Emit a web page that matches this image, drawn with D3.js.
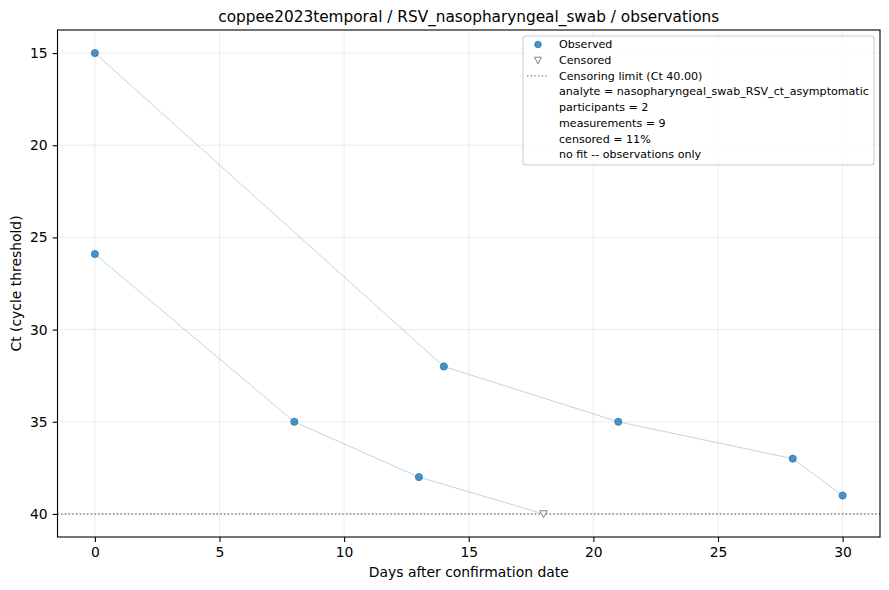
<!DOCTYPE html>
<html>
<head>
<meta charset="utf-8">
<script src="https://cdn.jsdelivr.net/npm/d3@7"></script>
<style>
  body { margin: 0; background: #fff; }
  text { font-family: "DejaVu Sans", sans-serif; }
</style>
</head>
<body>
<svg id="chart" width="889" height="590"></svg>
<script>
// participant trajectories (days, Ct)
var subjA_days = [0, 14, 21, 28, 30];
var subjA_ct = [15, 32, 35, 37, 39];
var subjB_days = [0, 8, 13, 18];
var subjB_ct = [25.9, 35, 38, 40];
var subjB_censored = [false, false, false, true];

var censorLimit = 40;
var xTicks = [0, 5, 10, 15, 20, 25, 30];
var yTicks = [15, 20, 25, 30, 35, 40];
var legendNotes = [
  "analyte = nasopharyngeal_swab_RSV_ct_asymptomatic",
  "participants = 2",
  "measurements = 9",
  "censored = 11%",
  "no fit -- observations only"
];

var svg = d3.select("#chart");
var pLeft = 57.5, pRight = 880, pTop = 30, pBottom = 537;

var x = d3.scaleLinear().domain([-1.5, 31.5]).range([pLeft, pRight]);
var y = d3.scaleLinear().domain([13.75, 41.25]).range([pTop, pBottom]);

// grid
svg.append("g").selectAll("line").data(xTicks).enter().append("line")
  .attr("x1", d => x(d)).attr("x2", d => x(d))
  .attr("y1", pTop).attr("y2", pBottom)
  .attr("stroke", "#b0b0b0").attr("stroke-opacity", 0.3).attr("stroke-width", 0.8);
svg.append("g").selectAll("line").data(yTicks).enter().append("line")
  .attr("x1", pLeft).attr("x2", pRight)
  .attr("y1", d => y(d)).attr("y2", d => y(d))
  .attr("stroke", "#b0b0b0").attr("stroke-opacity", 0.3).attr("stroke-width", 0.8);

// censoring limit
svg.append("line")
  .attr("x1", pLeft).attr("x2", pRight)
  .attr("y1", y(censorLimit)).attr("y2", y(censorLimit))
  .attr("stroke", "#808080").attr("stroke-width", 1.4)
  .attr("stroke-dasharray", "1.4,2.3");

var series = [
  { days: subjA_days, ct: subjA_ct, cens: subjA_days.map(() => false) },
  { days: subjB_days, ct: subjB_ct, cens: subjB_censored }
];

var line = d3.line().x(d => x(d[0])).y(d => y(d[1]));
series.forEach(function (s) {
  var pts = s.days.map((d, i) => [d, s.ct[i], s.cens[i]]);
  svg.append("path").datum(pts).attr("d", line)
    .attr("fill", "none").attr("stroke", "#1f77b4")
    .attr("stroke-opacity", 0.3).attr("stroke-width", 1);
  svg.append("g").selectAll("circle").data(pts.filter(p => !p[2])).enter()
    .append("circle")
    .attr("cx", d => x(d[0])).attr("cy", d => y(d[1])).attr("r", 3.6)
    .attr("fill", "#1f77b4").attr("fill-opacity", 0.8)
    .attr("stroke", "#1f77b4").attr("stroke-opacity", 0.9).attr("stroke-width", 0.8);
  svg.append("g").selectAll("path").data(pts.filter(p => p[2])).enter()
    .append("path")
    .attr("transform", d => "translate(" + x(d[0]) + "," + y(d[1]) + ")")
    .attr("d", "M-3.7,-3.2 L3.7,-3.2 L0,3.7 Z")
    .attr("fill", "#fff").attr("stroke", "#808080").attr("stroke-width", 1);
});

// axes
var xAxis = svg.append("g").attr("transform", "translate(0," + pBottom + ")")
  .call(d3.axisBottom(x).tickValues(xTicks).tickSize(4.9).tickPadding(4.9));
var yAxis = svg.append("g").attr("transform", "translate(" + pLeft + ",0)")
  .call(d3.axisLeft(y).tickValues(yTicks).tickSize(4.9).tickPadding(4.9));
[xAxis, yAxis].forEach(function (a) {
  a.select(".domain").remove();
  a.selectAll("text").attr("font-size", 13.9).attr("fill", "#000")
    .attr("font-family", "DejaVu Sans, sans-serif");
  a.selectAll("line").attr("stroke", "#000").attr("stroke-width", 1.1);
});
svg.append("rect").attr("x", pLeft).attr("y", pTop)
  .attr("width", pRight - pLeft).attr("height", pBottom - pTop)
  .attr("fill", "none").attr("stroke", "#000").attr("stroke-width", 1.1);

// labels
svg.append("text").attr("x", (pLeft + pRight) / 2).attr("y", 22)
  .attr("text-anchor", "middle").attr("font-size", 15.3)
  .text("coppee2023temporal / RSV_nasopharyngeal_swab / observations");
svg.append("text").attr("x", (pLeft + pRight) / 2).attr("y", 577)
  .attr("text-anchor", "middle").attr("font-size", 13.9)
  .text("Days after confirmation date");
svg.append("text").attr("transform", "translate(21," + (pTop + pBottom) / 2 + ") rotate(-90)")
  .attr("text-anchor", "middle").attr("font-size", 13.9)
  .text("Ct (cycle threshold)");

// legend
var lg = svg.append("g");
lg.append("rect").attr("x", 523).attr("y", 36).attr("width", 351).attr("height", 129)
  .attr("rx", 3).attr("fill", "#fff").attr("fill-opacity", 0.8)
  .attr("stroke", "#cccccc").attr("stroke-width", 1.1);
var rowY = d3.scaleLinear().domain([0, 1]).range([44.5, 60.2]);
var labels = ["Observed", "Censored", "Censoring limit (Ct 40.00)"].concat(legendNotes);
lg.selectAll("text").data(labels).enter().append("text")
  .attr("x", 559).attr("y", (d, i) => rowY(i)).attr("dy", "0.35em")
  .attr("font-size", 11.1).text(d => d);
lg.append("circle").attr("cx", 538).attr("cy", rowY(0)).attr("r", 3.3)
  .attr("fill", "#1f77b4").attr("fill-opacity", 0.8)
  .attr("stroke", "#1f77b4").attr("stroke-opacity", 0.9).attr("stroke-width", 0.8);
lg.append("path").attr("transform", "translate(538," + rowY(1) + ")")
  .attr("d", "M-3.5,-3 L3.5,-3 L0,3.5 Z")
  .attr("fill", "#fff").attr("stroke", "#808080").attr("stroke-width", 1);
lg.append("line").attr("x1", 527).attr("x2", 548).attr("y1", rowY(2)).attr("y2", rowY(2))
  .attr("stroke", "#808080").attr("stroke-width", 1.4).attr("stroke-dasharray", "1.4,2.3");
</script>
</body>
</html>
